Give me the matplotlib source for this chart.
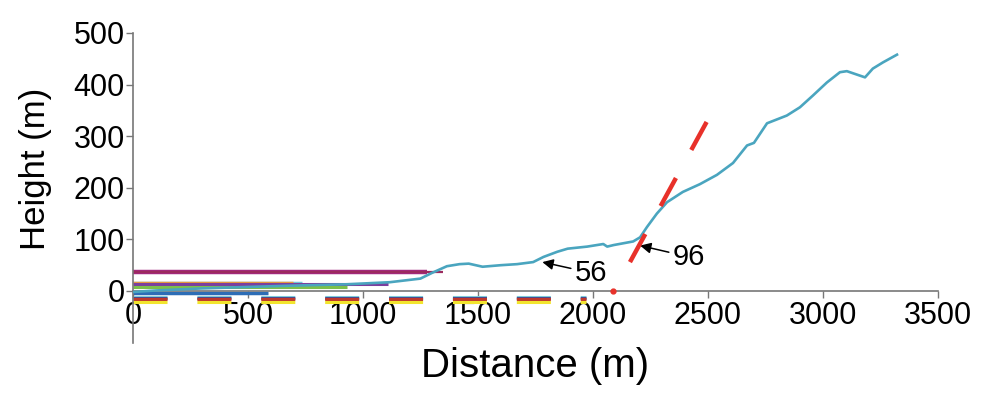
import numpy as np
import matplotlib
matplotlib.use("Agg")
from matplotlib import pyplot as plt

plt.rcParams['font.family'] = ['Liberation Sans', 'DejaVu Sans']
plt.rcParams['lines.scale_dashes'] = False

# ground profile, distance (m) vs height (m)
dist = [0, 100, 300, 660, 930, 1117, 1250, 1300, 1365, 1420, 1460, 1520, 1600,
        1670, 1740, 1785, 1845, 1890, 1975, 2045, 2062, 2090, 2175, 2205, 2235,
        2278, 2322, 2391, 2465, 2539, 2609, 2670, 2700, 2757, 2843, 2900, 2957,
        3017, 3074, 3104, 3183, 3217, 3261, 3322]
height = [-2, 1, 5, 10, 13, 17, 24, 35, 48, 52, 53, 47, 50,
          52, 56, 66, 76, 82, 86, 91, 86, 89, 96, 104, 124,
          150, 172, 192, 207, 225, 248, 282, 287, 325, 340, 356, 379,
          404, 424, 426, 414, 431, 443, 458]

# flat reference levels on the left
lvl_heights = [16, 16, 37, 36, 13, 8, -3]
lvl_ends = [735, 696, 1277, 1346, 1109, 930, 587]
lvl_colors = ['#74c6d8', '#e99a3d', '#a3287f', '#9b2b5e', '#7b3f9e', '#7cc04b', '#2d6db6']
lvl_widths = [2.5, 2.5, 3.2, 1.6, 2.2, 2.2, 2.5]

# dashed bands under the axis
band_heights = [-11, -14, -16, -21]
band_colors = ['#7fcfdb', '#4a4a8f', '#c0392b', '#f2e52e']
band_end = 1970

# red slope line
slope_d = [2161, 2496]
slope_h = [56, 329]
dot_d, dot_h = 2087, 0

notes = [('56', 1780, 56, 1922, 35), ('96', 2205, 88, 2348, 66)]

fig = plt.figure(figsize=(9.9, 3.95), dpi=100)
ax = fig.add_axes([0.1343, 0.1327, 0.8131, 0.7838])

for i in range(len(lvl_heights)):
    ax.plot([0, lvl_ends[i]], [lvl_heights[i]] * 2, color=lvl_colors[i],
            lw=lvl_widths[i], solid_capstyle='butt', zorder=2)

for i in range(len(band_heights)):
    ax.plot([0, band_end], [band_heights[i]] * 2, color=band_colors[i], lw=2.2,
            linestyle=(0, (24.5, 21.5)), dash_capstyle='butt', zorder=2)

ax.plot(dist, height, color='#4aa5bf', lw=1.9, zorder=3)
ax.plot(slope_d, slope_h, color='#e8312a', lw=3.2, linestyle=(0, (23, 23)),
        dash_capstyle='butt', zorder=4)
ax.plot([dot_d], [dot_h], 'o', color='#e8312a', ms=3.5, zorder=4)

for label, xd, yd, xt, yt in notes:
    ax.annotate(label, xy=(xd, yd), xytext=(xt, yt), fontsize=21,
                ha='left', va='center',
                arrowprops=dict(arrowstyle='-|>', color='black', lw=1.1,
                                mutation_scale=16, shrinkA=1, shrinkB=0))

ax.set_xlim(0, 3500)
ax.set_ylim(-100, 500)
ax.set_xticks(np.arange(0, 3501, 500))
ax.set_yticks(np.arange(0, 501, 100))
ax.spines['top'].set_visible(False)
ax.spines['right'].set_visible(False)
ax.spines['bottom'].set_position(('data', 0))
for s in ['left', 'bottom']:
    ax.spines[s].set_color('#777777')
    ax.spines[s].set_linewidth(1.2)
ax.tick_params(axis='both', colors='#777777', labelcolor='black', labelsize=22,
               length=5, width=1, direction='out')
ax.tick_params(axis='x', pad=2)
ax.tick_params(axis='y', pad=1)

ax.text(0.5, -0.075, 'Distance (m)', transform=ax.transAxes, ha='center',
        va='center', fontsize=29)
ax.set_ylabel('Height (m)', fontsize=25)
ax.yaxis.set_label_coords(-0.1, 0.56)

fig.savefig('out.png', dpi=100)
